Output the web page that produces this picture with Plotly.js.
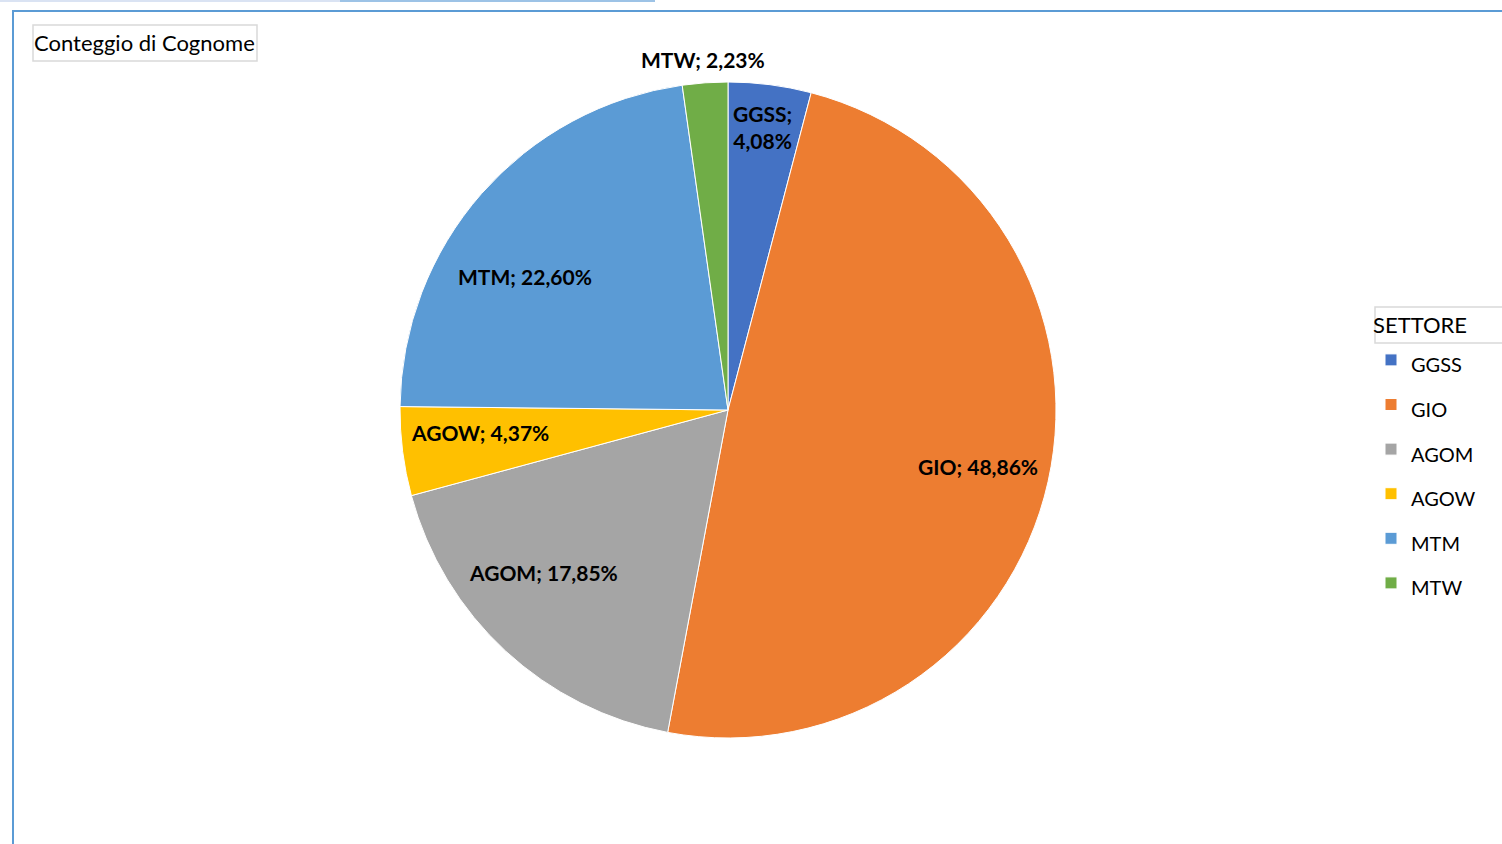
<!DOCTYPE html>
<html>
<head>
<meta charset="utf-8">
<script src="https://cdn.plot.ly/plotly-3.0.1.min.js"></script>
<style>
html,body{margin:0;padding:0;background:#fff;}
#chart{width:1502px;height:844px;}
</style>
</head>
<body>
<div id="chart"></div>
<script>
// ---- data ----
const settori = ["GGSS", "GIO", "AGOM", "AGOW", "MTM", "MTW"];
const percentuali = [4.08, 48.86, 17.85, 4.37, 22.60, 2.23];
const titolo = "Conteggio di Cognome";
const titoloLegenda = "SETTORE";

// ---- style ----
const colori = ["#4472c4", "#ed7d31", "#a5a5a5", "#ffc000", "#5b9bd5", "#70ad47"];
const raggioEtichetta = [0.87, 0.78, 0.75, 0.76, 0.74, 1.07];   // label distance (fraction of radius)
const spostamentoAngolo = [-0.5, 0, 6, 2, -8, 0];                // label angle nudge (deg)
const FONT = 'Lato, "Open Sans", sans-serif';

const W = 1502, H = 844;
const CX = 728, CY = 410, R = 328;
const px = v => v / W;
const py = v => 1 - v / H;

const testi = settori.map((s, i) => {
  const p = percentuali[i].toFixed(2).replace('.', ',') + '%';
  return s + (s === 'GGSS' ? ';<br>' : '; ') + p;
});
const etichetteLegenda = settori.map(s => '<span style="font-size:20px">' + s + '</span>');

// label annotations positioned from the data (slice mid-angles)
const totale = percentuali.reduce((a, b) => a + b, 0);
let cum = 0;
const annotazioni = percentuali.map((v, i) => {
  const midDeg = (cum + v / 2) / totale * 360 + spostamentoAngolo[i];
  cum += v;
  const a = midDeg * Math.PI / 180;
  const r = raggioEtichetta[i] * R;
  return {
    xref: 'paper', yref: 'paper',
    x: px(CX + r * Math.sin(a)), y: py(CY - r * Math.cos(a)),
    xanchor: 'center', yanchor: 'middle',
    text: '<b>' + testi[i] + '</b>', showarrow: false,
    font: {family: FONT, size: 21, color: '#000000'}
  };
});

const trace = {
  type: 'pie',
  labels: etichetteLegenda,
  values: percentuali,
  textinfo: 'none',
  hoverinfo: 'label+percent',
  sort: false,
  direction: 'clockwise',
  rotation: 0,
  marker: {colors: colori, line: {color: '#ffffff', width: 1}},
  domain: {x: [px(CX - R), px(CX + R)], y: [py(CY + R), py(CY - R)]}
};

const layout = {
  width: W, height: H,
  margin: {l: 0, r: 0, t: 0, b: 0},
  paper_bgcolor: '#ffffff',
  showlegend: true,
  title: {
    text: titolo,
    x: px(34), xanchor: 'left', xref: 'paper',
    y: py(43), yanchor: 'middle', yref: 'paper',
    font: {family: FONT, size: 22, color: '#000000'}
  },
  legend: {
    x: px(1371), xanchor: 'left',
    y: py(304), yanchor: 'top',
    title: {text: '<span style="font-size:22px">' + titoloLegenda + '</span>', font: {family: FONT, size: 22, color: '#000000'}},
    font: {family: FONT, size: 32, color: '#000000'},
    bgcolor: 'rgba(0,0,0,0)',
    itemclick: false, itemdoubleclick: false
  },
  annotations: annotazioni,
  shapes: [
    {type: 'rect', xref: 'paper', yref: 'paper', x0: px(0), x1: px(340), y0: py(2), y1: py(0), fillcolor: '#dae3f3', line: {width: 0}},
    {type: 'rect', xref: 'paper', yref: 'paper', x0: px(340), x1: px(655), y0: py(2), y1: py(0), fillcolor: '#9dc3e6', line: {width: 0}},
    {type: 'line', xref: 'paper', yref: 'paper', x0: px(12), x1: px(1502), y0: py(11), y1: py(11), line: {color: '#5b9bd5', width: 2}},
    {type: 'line', xref: 'paper', yref: 'paper', x0: px(13), x1: px(13), y0: py(10), y1: py(844), line: {color: '#5b9bd5', width: 2}},
    {type: 'rect', xref: 'paper', yref: 'paper', x0: px(33), x1: px(257), y0: py(61), y1: py(25), line: {color: '#d9d9d9', width: 1.5}},
    {type: 'rect', xref: 'paper', yref: 'paper', x0: px(1375), x1: px(1503), y0: py(343), y1: py(307), line: {color: '#d9d9d9', width: 1.5}}
  ]
};

Plotly.newPlot('chart', [trace], layout, {displayModeBar: false, staticPlot: true});
</script>
</body>
</html>
